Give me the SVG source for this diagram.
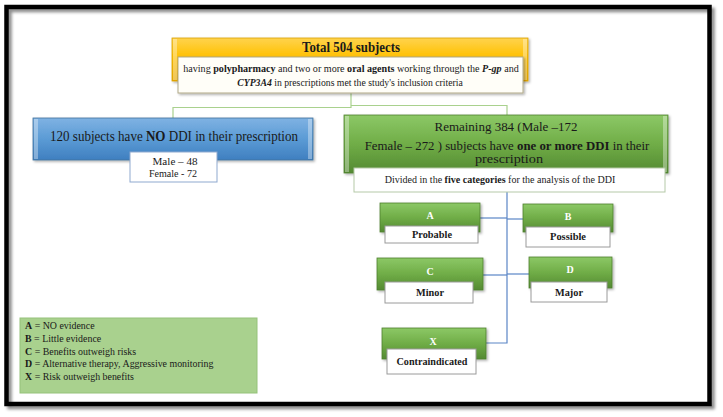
<svg xmlns="http://www.w3.org/2000/svg" width="723" height="417" viewBox="0 0 723 417" font-family="'Liberation Serif', 'Times New Roman', serif">
<defs>
<linearGradient id="gY" x1="0" y1="0" x2="0" y2="1"><stop offset="0" stop-color="#ffd34d"/><stop offset="0.45" stop-color="#ffc000"/><stop offset="1" stop-color="#e5a600"/></linearGradient>
<linearGradient id="gB" x1="0" y1="0" x2="0" y2="1"><stop offset="0" stop-color="#7fb2e3"/><stop offset="0.5" stop-color="#5b9bd5"/><stop offset="1" stop-color="#3f7fc0"/></linearGradient>
<linearGradient id="gG" x1="0" y1="0" x2="0" y2="1"><stop offset="0" stop-color="#8cc866"/><stop offset="0.5" stop-color="#70ad47"/><stop offset="1" stop-color="#548a32"/></linearGradient>
<filter id="sh" x="-5%" y="-10%" width="115%" height="130%"><feDropShadow dx="1.5" dy="1.5" stdDeviation="1" flood-color="#000" flood-opacity="0.3"/></filter>
<filter id="fsh" x="-2%" y="-2%" width="105%" height="105%"><feDropShadow dx="3" dy="3" stdDeviation="1.5" flood-color="#000" flood-opacity="0.45"/></filter>
</defs>
<style>
text{font-family:"Liberation Serif","Times New Roman",serif;fill:#1a1a1a}
.b{font-weight:bold}
.i{font-style:italic}
.w{fill:#fff;font-weight:bold;font-size:10px}
.lbl{font-weight:bold;font-size:10.5px}
.lg{font-size:11px}
.yb{fill:url(#gY);stroke:#d9a000;stroke-width:0.8}
.bb{fill:url(#gB);stroke:#41719c;stroke-width:0.8}
.gb{fill:url(#gG);stroke:#4e7f2e;stroke-width:0.8}
.wb{fill:#fff;stroke:#9a9a9a;stroke-width:1}
.hl{fill:#fff;opacity:0.35}
.gc{fill:none;stroke:#a9d18e;stroke-width:1.2}
.bc{fill:none;stroke:#5b85c6;stroke-width:1.2}
</style>
<rect x="0" y="0" width="723" height="417" fill="#fff"/>
<rect x="6.5" y="7" width="703" height="397" fill="none" stroke="#000" stroke-width="4.5" filter="url(#fsh)"/>

<g id="connectors">
<path class="gc" d="M351,93 V107.5 H173 V118"/>
<path class="gc" d="M351,105.5 H507 V115"/>
<path class="bc" d="M507,192 V343 H486"/>
<path class="bc" d="M480,218 H507"/>
<path class="bc" d="M507,219 H523"/>
<path class="bc" d="M483,275 H507"/>
<path class="bc" d="M507,274 H529"/>
</g>

<g id="total">
<rect class="yb" x="172" y="38" width="356" height="43" filter="url(#sh)"/>
<rect class="hl" x="173" y="39" width="4" height="41"/>
<rect class="hl" x="523" y="39" width="4" height="41"/>
<text class="b" x="351" y="52" font-size="14" text-anchor="middle" textLength="98" lengthAdjust="spacingAndGlyphs">Total 504 subjects</text>
<rect class="wb" x="178" y="57" width="345" height="36" style="fill:#fffef8;stroke:#b0a888" filter="url(#sh)"/>
<text transform="translate(351,72) scale(0.963,1)" font-size="10.5" text-anchor="middle">having <tspan class="b">polypharmacy</tspan> and two or more <tspan class="b">oral agents</tspan> working through the <tspan class="b i">P-gp</tspan> and</text>
<text transform="translate(350,86) scale(0.927,1)" font-size="10.5" text-anchor="middle"><tspan class="b i">CYP3A4</tspan> in prescriptions met the study's inclusion  criteria</text>
</g>

<g id="noddi">
<rect class="bb" x="33" y="118" width="280" height="42" filter="url(#sh)"/>
<rect class="hl" x="34" y="119" width="4" height="40"/>
<rect class="hl" x="308" y="119" width="4" height="40"/>
<text transform="translate(174,141) scale(0.9,1)" font-size="14.5" text-anchor="middle">120 subjects have <tspan class="b">NO</tspan> DDI in their prescription</text>
<rect class="wb" x="130" y="152" width="87" height="30" style="stroke:#8fa9cf"/>
<text x="175" y="165" font-size="10" text-anchor="middle" textLength="45" lengthAdjust="spacingAndGlyphs">Male  – 48</text>
<text x="173" y="177" font-size="10" text-anchor="middle" textLength="48" lengthAdjust="spacingAndGlyphs">Female  - 72</text>
</g>

<g id="remaining">
<rect class="gb" x="344" y="115" width="324" height="58" filter="url(#sh)"/>
<rect class="hl" x="345" y="116" width="4" height="56"/>
<rect class="hl" x="663" y="116" width="4" height="56"/>
<text x="506" y="131" font-size="13.5" text-anchor="middle" textLength="143" lengthAdjust="spacingAndGlyphs">Remaining 384 (Male –172</text>
<text transform="translate(507,150) scale(0.95,1)" font-size="13.5" text-anchor="middle">Female – 272 ) subjects have <tspan class="b">one or more DDI</tspan> in their</text>
<text x="509" y="163" font-size="13.5" text-anchor="middle" textLength="68" lengthAdjust="spacingAndGlyphs">prescription</text>
<rect class="wb" x="354" y="168" width="311" height="24" style="stroke:#b5c9a8"/>
<text transform="translate(500,183) scale(0.93,1)" font-size="10.8" text-anchor="middle">Divided  in the <tspan class="b">five categories</tspan> for the analysis  of the DDI</text>
</g>

<g id="catA">
<rect class="gb" x="380" y="203" width="100" height="29" filter="url(#sh)"/>
<text class="w" x="430" y="219" text-anchor="middle">A</text>
<rect class="wb" x="385" y="226" width="93" height="17"/>
<text class="lbl" x="432" y="238" text-anchor="middle" textLength="40" lengthAdjust="spacingAndGlyphs">Probable</text>
</g>
<g id="catB">
<rect class="gb" x="523" y="204" width="90" height="28" filter="url(#sh)"/>
<text class="w" x="568" y="220" text-anchor="middle">B</text>
<rect class="wb" x="526" y="227" width="84" height="20"/>
<text class="lbl" x="568" y="240" text-anchor="middle" textLength="36" lengthAdjust="spacingAndGlyphs">Possible</text>
</g>
<g id="catC">
<rect class="gb" x="377" y="258" width="106" height="32" filter="url(#sh)"/>
<text class="w" x="430" y="275" text-anchor="middle">C</text>
<rect class="wb" x="385" y="282" width="88" height="21"/>
<text class="lbl" x="430" y="296" text-anchor="middle" textLength="28" lengthAdjust="spacingAndGlyphs">Minor</text>
</g>
<g id="catD">
<rect class="gb" x="529" y="257" width="83" height="31" filter="url(#sh)"/>
<text class="w" x="570" y="273" text-anchor="middle">D</text>
<rect class="wb" x="531" y="282" width="76" height="20"/>
<text class="lbl" x="569" y="296" text-anchor="middle" textLength="28" lengthAdjust="spacingAndGlyphs">Major</text>
</g>
<g id="catX">
<rect class="gb" x="382" y="328" width="104" height="31" filter="url(#sh)"/>
<text class="w" x="433" y="345" text-anchor="middle">X</text>
<rect class="wb" x="387" y="349" width="89" height="25"/>
<text class="lbl" x="432" y="365" text-anchor="middle" textLength="71" lengthAdjust="spacingAndGlyphs">Contraindicated</text>
</g>

<g id="legend">
<rect x="20" y="318" width="237" height="75" fill="#a9d18e" stroke="#95c27a" stroke-width="1"/>
<text class="lg" transform="translate(25,329) scale(0.9,1)"><tspan class="b">A</tspan> = NO evidence</text>
<text class="lg" transform="translate(25,342) scale(0.9,1)"><tspan class="b">B</tspan> = Little  evidence</text>
<text class="lg" transform="translate(25,354.5) scale(0.9,1)"><tspan class="b">C</tspan> = Benefits  outweigh  risks</text>
<text class="lg" transform="translate(25,367) scale(0.9,1)"><tspan class="b">D</tspan> = Alternative  therapy, Aggressive  monitoring</text>
<text class="lg" transform="translate(25,379.5) scale(0.9,1)"><tspan class="b">X</tspan> = Risk outweigh  benefits</text>
</g>
</svg>
